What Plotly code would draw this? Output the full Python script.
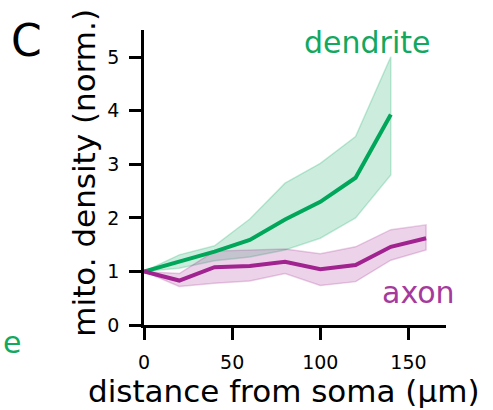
import plotly.graph_objects as go

# distances (µm)
dend_x = [0, 20, 40, 60, 80, 100, 120, 140]
dend_mean = [1.0, 1.18, 1.37, 1.59, 1.97, 2.30, 2.75, 3.93]
dend_upper = [1.0, 1.31, 1.48, 1.98, 2.65, 3.02, 3.52, 5.01]
dend_lower = [1.0, 1.06, 1.20, 1.27, 1.40, 1.62, 2.00, 2.80]

axon_x = [0, 20, 40, 60, 80, 100, 120, 140, 160]
axon_mean = [1.0, 0.83, 1.08, 1.10, 1.18, 1.04, 1.12, 1.46, 1.62]
axon_upper = [1.0, 0.96, 1.38, 1.40, 1.42, 1.33, 1.46, 1.78, 1.87]
axon_lower = [1.0, 0.72, 0.78, 0.82, 0.96, 0.74, 0.81, 1.21, 1.40]

x_ticks = [0, 50, 100, 150]
y_ticks = [0, 1, 2, 3, 4, 5]

GREEN = "rgb(0,166,90)"
GREEN_FILL = "rgba(0,166,90,0.2)"
GREEN_EDGE = "rgba(0,166,90,0.22)"
MAG = "rgb(160,35,143)"
MAG_FILL = "rgba(160,35,143,0.2)"
MAG_EDGE = "rgba(160,35,143,0.22)"

fig = go.Figure()


def band(x, lo, hi, fill, edge):
    fig.add_trace(go.Scatter(x=x + x[::-1], y=hi + lo[::-1], fill="toself",
                             fillcolor=fill, line=dict(color=edge, width=1.5),
                             mode="lines", hoverinfo="skip", showlegend=False))


band(dend_x, dend_lower, dend_upper, GREEN_FILL, GREEN_EDGE)
band(axon_x, axon_lower, axon_upper, MAG_FILL, MAG_EDGE)
fig.add_trace(go.Scatter(x=dend_x, y=dend_mean, mode="lines",
                         line=dict(color=GREEN, width=4), showlegend=False))
fig.add_trace(go.Scatter(x=axon_x, y=axon_mean, mode="lines",
                         line=dict(color=MAG, width=4), showlegend=False))

FONT = "DejaVu Sans"
axis_common = dict(showgrid=False, zeroline=False, showline=True, linecolor="black",
                   linewidth=2.5, ticks="outside", ticklen=12, tickwidth=2.5,
                   tickcolor="black", ticklabelstandoff=6,
                   tickfont=dict(family=FONT, size=19, color="black"))

fig.update_layout(
    width=493, height=410,
    margin=dict(l=144, r=47, t=30, b=85),
    paper_bgcolor="white", plot_bgcolor="white",
    font=dict(family=FONT, color="black"),
    xaxis=dict(range=[0, 171.3], tickvals=x_ticks, **axis_common),
    yaxis=dict(range=[0, 5.51], tickvals=y_ticks, **axis_common),
    annotations=[
        dict(text="distance from soma (µm)", xref="paper", yref="paper", x=0.462, y=-0.225,
             xanchor="center", yanchor="middle", showarrow=False,
             font=dict(family=FONT, size=31, color="black")),
        dict(text="mito. density (norm.)", xref="paper", yref="paper", x=-0.2, y=0.515,
             xanchor="center", yanchor="middle", textangle=-90, showarrow=False,
             font=dict(family=FONT, size=31, color="black")),
        dict(text="C", xref="paper", yref="paper", x=-0.39, y=0.966, xanchor="center",
             yanchor="middle", showarrow=False, font=dict(family=FONT, size=44, color="black")),
        dict(text="dendrite", xref="x", yref="y", x=126.5, y=5.27, xanchor="center",
             yanchor="middle", showarrow=False, font=dict(family=FONT, size=30, color="rgb(18,168,96)")),
        dict(text="axon", xref="x", yref="y", x=155.5, y=0.6, xanchor="center",
             yanchor="middle", showarrow=False, font=dict(family=FONT, size=30, color="rgb(166,58,156)")),
        dict(text="e", xref="paper", yref="paper", x=-0.475, y=-0.061, xanchor="left",
             yanchor="middle", showarrow=False, font=dict(family=FONT, size=30, color="rgb(18,168,96)")),
    ],
)

fig.write_html("out.html")
